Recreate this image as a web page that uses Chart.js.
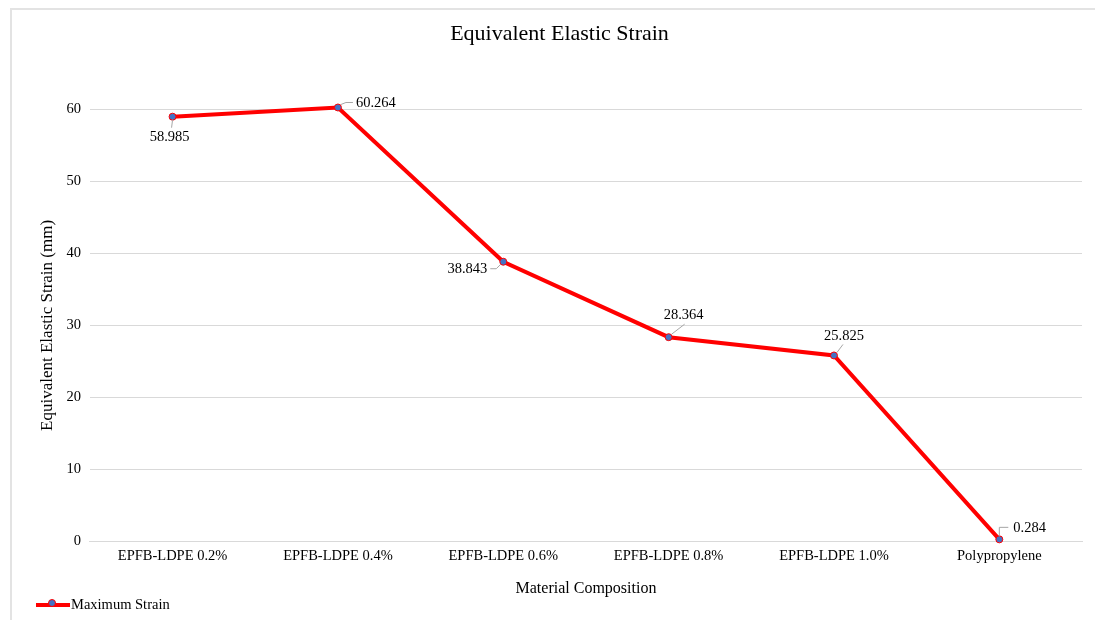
<!DOCTYPE html>
<html>
<head>
<meta charset="utf-8">
<script src="https://cdn.jsdelivr.net/npm/chart.js@4.4.1/dist/chart.umd.min.js"></script>
<style>
    html, body { margin:0; padding:0; background:#fff; }
    #wrap { position:relative; width:1095px; height:620px; overflow:hidden; }
    #frame { position:absolute; left:10px; top:8px; right:0; bottom:0; border-top:2px solid #e3e3e3; border-left:2px solid #e3e3e3; }
    #chartBox { position:absolute; left:0; top:0; width:1095px; height:620px; }
    #legend { position:absolute; left:36px; top:596px; font:14.5px "Liberation Serif", serif; color:#000; display:flex; align-items:center; }
    #legend .swatch { position:relative; width:34px; height:4px; background:#ff0000; margin-right:1px; }
    #legend .swatch span { position:absolute; left:13px; top:-3px; width:6px; height:6px; border-radius:50%; background:#4472c4; border:1px solid #ff0000; box-sizing:content-box; margin-left:-1px; margin-top:-1px; }
</style>
</head>
<body>
<div id="wrap">
    <div id="frame"></div>
    <div id="chartBox"><canvas id="chart" width="1095" height="620"></canvas></div>
    <div id="legend"><div class="swatch"><span></span></div>Maximum Strain</div>
</div>
<script>
const categories = ['EPFB-LDPE 0.2%', 'EPFB-LDPE 0.4%', 'EPFB-LDPE 0.6%', 'EPFB-LDPE 0.8%', 'EPFB-LDPE 1.0%', 'Polypropylene'];
const maxStrain = [58.985, 60.264, 38.843, 28.364, 25.825, 0.284];
const labelText = ['58.985', '60.264', '38.843', '28.364', '25.825', '0.284'];
const yTicks = [0, 10, 20, 30, 40, 50, 60];

// where each data label sits relative to its point, plus its leader line
const labelPlace = [
    { dx:-3, dy:20, align:'center', lead:[[0,3],[-1,11]] },
    { dx:18, dy:-4, align:'left', lead:[[3,-3],[8,-5],[15,-5]] },
    { dx:-16, dy:7, align:'right', lead:[[-3,3],[-7,7],[-13,7]] },
    { dx:15, dy:-22, align:'center', lead:[[3,-3],[16,-13]] },
    { dx:10, dy:-19, align:'center', lead:[[3,-3],[9,-11]] },
    { dx:14, dy:-11, align:'left', lead:[[0,-3],[0,-12],[9,-12]] }
];

const serif = '"Liberation Serif", "Times New Roman", serif';

const dataLabels = {
    id:'dataLabels',
    afterDatasetsDraw(chart) {
        const ctx = chart.ctx;
        const meta = chart.getDatasetMeta(0);
        ctx.save();
        meta.data.forEach((pt, i) => {
            const place = labelPlace[i];
            ctx.strokeStyle = '#a6a6a6';
            ctx.lineWidth = 1;
            ctx.beginPath();
            place.lead.forEach((p, j) => {
                if (j === 0) ctx.moveTo(pt.x + p[0], pt.y + p[1]);
                else ctx.lineTo(pt.x + p[0], pt.y + p[1]);
            });
            ctx.stroke();
            ctx.fillStyle = '#000';
            ctx.font = `14.5px ${serif}`;
            ctx.textAlign = place.align;
            ctx.textBaseline = 'middle';
            ctx.fillText(labelText[i], pt.x + place.dx, pt.y + place.dy);
        });
        ctx.restore();
    }
};

new Chart(document.getElementById('chart'), {
    type:'line',
    data:{
        labels:categories,
        datasets:[{
            label:'Maximum Strain',
            data:maxStrain,
            borderColor:'#ff0000',
            borderWidth:4,
            backgroundColor:'#4472c4',
            pointBackgroundColor:'#4472c4',
            pointBorderColor:'#ff0000',
            pointBorderWidth:1,
            pointRadius:3.5,
            tension:0,
            clip:false
        }]
    },
    options:{
        responsive:false,
        animation:false,
        layout:{ padding:{ left:37, right:13, top:18, bottom:22 } },
        plugins:{
            legend:{ display:false },
            tooltip:{ enabled:false },
            title:{
                display:true,
                text:'Equivalent Elastic Strain',
                color:'#000',
                font:{ family:serif, size:22, weight:'normal' },
                padding:{ top:3, bottom:62 }
            }
        },
        scales:{
            x:{
                offset:true,
                grid:{ display:false, drawTicks:false },
                border:{ color:'#d9d9d9', width:1 },
                ticks:{ color:'#000', font:{ family:serif, size:14.5 }, padding:6, maxRotation:0 },
                title:{ display:true, text:'Material Composition', color:'#000', font:{ family:serif, size:16 }, padding:{ top:8, bottom:0 } }
            },
            y:{
                min:0,
                max:60,
                afterBuildTicks(axis) { axis.ticks = yTicks.map(v => ({ value:v })); },
                grid:{ color:'#d9d9d9', drawTicks:false },
                border:{ display:false },
                ticks:{ color:'#000', font:{ family:serif, size:14.5 }, padding:9 },
                title:{ display:true, text:'Equivalent Elastic Strain (mm)', color:'#000', font:{ family:serif, size:17 }, padding:{ top:0, bottom:0 } }
            }
        }
    },
    plugins:[dataLabels]
});
</script>
</body>
</html>
